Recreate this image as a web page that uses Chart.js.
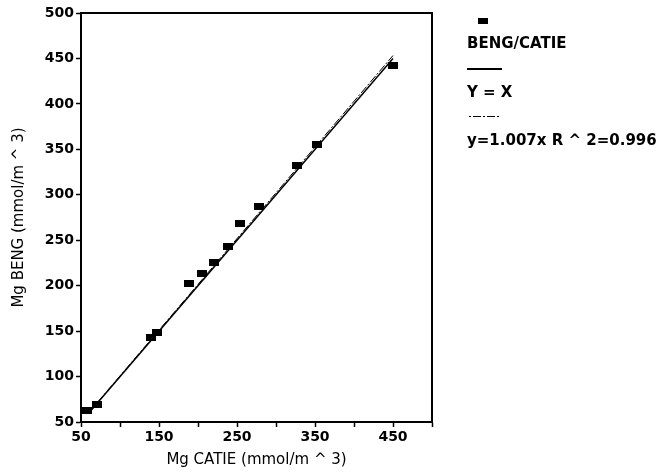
<!DOCTYPE html>
<html>
<head>
<meta charset="utf-8">
<script src="https://cdn.jsdelivr.net/npm/chart.js@4/dist/chart.umd.min.js"></script>
<style>
  body { margin: 0; background: #fff; }
  #wrap { position: relative; width: 666px; height: 475px; }
  .leg { position: absolute; left: 467px; font-family: "DejaVu Sans", sans-serif; font-weight: bold; font-size: 15px; color: #000; white-space: nowrap; }
  .sw { position: absolute; }
</style>
</head>
<body>
<div id="wrap">
  <canvas id="myChart" width="666" height="475"></canvas>
  <div class="sw" style="left:478px;top:18px;width:10px;height:6px;background:#000"></div>
  <div class="leg" id="l0" style="top:34px"></div>
  <div class="sw" style="left:467px;top:68px;width:35px;height:2px;background:#000"></div>
  <div class="leg" id="l1" style="top:83px"></div>
  <div class="sw" style="left:469px;top:116px;width:30px;height:1px;background:repeating-linear-gradient(90deg,#000 0 2px,transparent 2px 4px,#000 4px 12px,transparent 12px 14px)"></div>
  <div class="leg" id="l2" style="top:131px"></div>
</div>
<script>
// measured points, Mg CATIE vs Mg BENG (mmol/m^3)
let catie = [58, 70, 140, 147, 188, 205, 220, 238, 254, 278, 327, 352, 450];
let beng  = [63, 69, 143, 148, 202, 213, 226, 243, 268, 287, 332, 355, 442];

// line end points
let lineX = [60, 450];
let identY = [60, 450];
let fitY = [60.4, 453.2];

let xTickLabels = [50, 150, 250, 350, 450];
let legendLabels = ["BENG/CATIE", "Y = X", "y=1.007x R ^ 2=0.996"];

document.getElementById("l0").textContent = legendLabels[0];
document.getElementById("l1").textContent = legendLabels[1];
document.getElementById("l2").textContent = legendLabels[2];

// wide flat square marker like the scan
const mark = document.createElement("canvas");
mark.width = 10;
mark.height = 7;
mark.getContext("2d").fillRect(0, 0, 10, 7);

const frame = {
    id: "frame",
    afterDraw(chart) {
        const a = chart.chartArea;
        const ctx = chart.ctx;
        ctx.save();
        ctx.strokeStyle = "#000";
        ctx.lineWidth = 2;
        ctx.strokeRect(a.left, a.top, a.right - a.left, a.bottom - a.top);
        ctx.restore();
    }
};

new Chart(document.getElementById("myChart"), {
    type: "scatter",
    data: {
        datasets: [{
            label: legendLabels[0],
            data: catie.map((x, i) => ({ x: x, y: beng[i] })),
            pointStyle: mark,
            backgroundColor: "#000",
            borderColor: "#000"
        },
        {
            label: legendLabels[1],
            data: lineX.map((x, i) => ({ x: x, y: identY[i] })),
            showLine: true,
            pointRadius: 0,
            borderColor: "#000",
            borderWidth: 1.5
        },
        {
            label: legendLabels[2],
            data: lineX.map((x, i) => ({ x: x, y: fitY[i] })),
            showLine: true,
            pointRadius: 0,
            borderColor: "#000",
            borderWidth: 1,
            borderDash: [8, 2, 2, 2]
        }]
    },
    options: {
        responsive: false,
        animation: false,
        layout: { padding: { top: 13, right: 234, left: 10, bottom: 6 } },
        plugins: { legend: { display: false }, tooltip: { enabled: false } },
        scales: {
            x: {
                min: 50, max: 500,
                afterFit: s => { s.height = 47; },
                grid: { drawOnChartArea: false, color: "#000", tickLength: 5, tickWidth: 1.5 },
                border: { color: "#000", width: 2 },
                ticks: {
                    stepSize: 50, color: "#000", padding: 2,
                    font: { family: "DejaVu Sans", weight: "bold", size: 14 },
                    callback: v => xTickLabels.includes(v) ? String(v) : ""
                },
                title: {
                    display: true, text: "Mg CATIE (mmol/m ^ 3)", color: "#000",
                    font: { family: "DejaVu Sans", size: 15 }, padding: { top: 0, bottom: 0 }
                }
            },
            y: {
                min: 50, max: 500,
                afterFit: s => { s.width = 71; },
                grid: { drawOnChartArea: false, color: "#000", tickLength: 5, tickWidth: 1.5 },
                border: { color: "#000", width: 2 },
                ticks: {
                    stepSize: 50, color: "#000", padding: 2,
                    font: { family: "DejaVu Sans", weight: "bold", size: 14 }
                },
                title: {
                    display: true, text: "Mg BENG (mmol/m ^ 3)", color: "#000",
                    font: { family: "DejaVu Sans", size: 15 }, padding: { top: 0, bottom: 4 }
                }
            }
        }
    },
    plugins: [frame]
});
</script>
</body>
</html>
